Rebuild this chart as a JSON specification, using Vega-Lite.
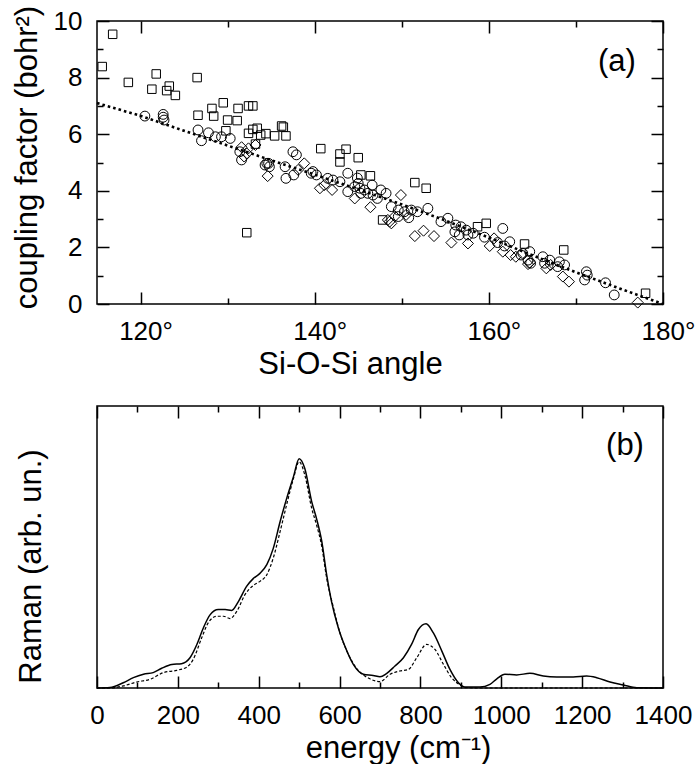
{
  "$schema": "https://vega.github.io/schema/vega-lite/v6.json",
  "padding": {"left": 10, "top": 4, "right": 0, "bottom": 0},
  "spacing": 25,
  "config": {
    "font": "Liberation Sans Narrow, Liberation Sans, sans-serif",
    "view": {"stroke": "black", "strokeWidth": 1.5, "fill": "transparent"},
    "axis": {"zindex": 1, "domain": false, "ticks": false, "gridColor": "black", "gridOpacity": 1, "gridWidth": 1.5, "labelColor": "black", "titleColor": "black", "labelFontSize": 26, "titleFontSize": 31, "titleFontWeight": "normal", "labelFlush": false, "labelOverlap": false, "labelBound": false}
  },
  "datasets": {
    "scatter": [
      {"angle": 116.8, "coupling": 9.53, "series": "square"},
      {"angle": 115.6, "coupling": 8.39, "series": "square"},
      {"angle": 118.6, "coupling": 7.83, "series": "square"},
      {"angle": 121.8, "coupling": 8.13, "series": "square"},
      {"angle": 121.3, "coupling": 7.59, "series": "square"},
      {"angle": 123.3, "coupling": 7.70, "series": "square"},
      {"angle": 123.0, "coupling": 7.54, "series": "square"},
      {"angle": 124.0, "coupling": 7.37, "series": "square"},
      {"angle": 126.5, "coupling": 8.00, "series": "square"},
      {"angle": 129.5, "coupling": 7.11, "series": "square"},
      {"angle": 128.2, "coupling": 6.91, "series": "square"},
      {"angle": 128.4, "coupling": 6.64, "series": "square"},
      {"angle": 126.6, "coupling": 6.67, "series": "square"},
      {"angle": 131.2, "coupling": 6.91, "series": "square"},
      {"angle": 132.4, "coupling": 7.00, "series": "square"},
      {"angle": 132.9, "coupling": 7.00, "series": "square"},
      {"angle": 130.0, "coupling": 6.50, "series": "square"},
      {"angle": 131.1, "coupling": 6.48, "series": "square"},
      {"angle": 129.8, "coupling": 6.12, "series": "square"},
      {"angle": 132.9, "coupling": 6.17, "series": "square"},
      {"angle": 133.4, "coupling": 6.21, "series": "square"},
      {"angle": 132.4, "coupling": 6.03, "series": "square"},
      {"angle": 133.8, "coupling": 5.97, "series": "square"},
      {"angle": 134.4, "coupling": 6.02, "series": "square"},
      {"angle": 135.4, "coupling": 5.94, "series": "square"},
      {"angle": 136.2, "coupling": 6.29, "series": "square"},
      {"angle": 136.4, "coupling": 6.25, "series": "square"},
      {"angle": 136.7, "coupling": 5.94, "series": "square"},
      {"angle": 133.2, "coupling": 5.65, "series": "square"},
      {"angle": 140.7, "coupling": 5.49, "series": "square"},
      {"angle": 142.9, "coupling": 5.30, "series": "square"},
      {"angle": 143.6, "coupling": 5.47, "series": "square"},
      {"angle": 142.9, "coupling": 5.02, "series": "square"},
      {"angle": 145.0, "coupling": 5.17, "series": "square"},
      {"angle": 145.3, "coupling": 4.56, "series": "square"},
      {"angle": 146.4, "coupling": 4.53, "series": "square"},
      {"angle": 147.8, "coupling": 2.97, "series": "square"},
      {"angle": 132.2, "coupling": 2.52, "series": "square"},
      {"angle": 151.5, "coupling": 4.29, "series": "square"},
      {"angle": 152.8, "coupling": 4.09, "series": "square"},
      {"angle": 159.7, "coupling": 2.85, "series": "square"},
      {"angle": 158.7, "coupling": 2.73, "series": "square"},
      {"angle": 164.1, "coupling": 2.12, "series": "square"},
      {"angle": 168.6, "coupling": 1.91, "series": "square"},
      {"angle": 178.0, "coupling": 0.38, "series": "square"},
      {"angle": 120.5, "coupling": 6.64, "series": "circle"},
      {"angle": 122.6, "coupling": 6.70, "series": "circle"},
      {"angle": 122.6, "coupling": 6.60, "series": "circle"},
      {"angle": 122.7, "coupling": 6.50, "series": "circle"},
      {"angle": 126.6, "coupling": 6.15, "series": "circle"},
      {"angle": 127.0, "coupling": 5.77, "series": "circle"},
      {"angle": 127.8, "coupling": 6.05, "series": "circle"},
      {"angle": 128.6, "coupling": 5.91, "series": "circle"},
      {"angle": 129.3, "coupling": 5.91, "series": "circle"},
      {"angle": 130.3, "coupling": 5.85, "series": "circle"},
      {"angle": 131.4, "coupling": 5.38, "series": "circle"},
      {"angle": 131.6, "coupling": 5.09, "series": "circle"},
      {"angle": 134.3, "coupling": 4.91, "series": "circle"},
      {"angle": 134.5, "coupling": 4.97, "series": "circle"},
      {"angle": 134.7, "coupling": 4.97, "series": "circle"},
      {"angle": 134.8, "coupling": 4.85, "series": "circle"},
      {"angle": 137.5, "coupling": 5.38, "series": "circle"},
      {"angle": 137.9, "coupling": 5.27, "series": "circle"},
      {"angle": 136.6, "coupling": 4.85, "series": "circle"},
      {"angle": 136.7, "coupling": 4.44, "series": "circle"},
      {"angle": 137.6, "coupling": 4.56, "series": "circle"},
      {"angle": 139.6, "coupling": 4.62, "series": "circle"},
      {"angle": 139.8, "coupling": 4.68, "series": "circle"},
      {"angle": 140.2, "coupling": 4.56, "series": "circle"},
      {"angle": 141.5, "coupling": 4.44, "series": "circle"},
      {"angle": 142.1, "coupling": 4.38, "series": "circle"},
      {"angle": 142.9, "coupling": 4.32, "series": "circle"},
      {"angle": 143.8, "coupling": 4.62, "series": "circle"},
      {"angle": 143.8, "coupling": 3.97, "series": "circle"},
      {"angle": 144.6, "coupling": 4.15, "series": "circle"},
      {"angle": 144.9, "coupling": 4.45, "series": "circle"},
      {"angle": 145.0, "coupling": 4.26, "series": "circle"},
      {"angle": 145.2, "coupling": 4.09, "series": "circle"},
      {"angle": 145.7, "coupling": 4.03, "series": "circle"},
      {"angle": 146.1, "coupling": 3.91, "series": "circle"},
      {"angle": 145.3, "coupling": 3.91, "series": "circle"},
      {"angle": 146.6, "coupling": 4.20, "series": "circle"},
      {"angle": 146.7, "coupling": 3.85, "series": "circle"},
      {"angle": 147.6, "coupling": 4.03, "series": "circle"},
      {"angle": 148.2, "coupling": 3.91, "series": "circle"},
      {"angle": 147.2, "coupling": 3.73, "series": "circle"},
      {"angle": 148.8, "coupling": 3.44, "series": "circle"},
      {"angle": 149.6, "coupling": 3.32, "series": "circle"},
      {"angle": 150.3, "coupling": 3.26, "series": "circle"},
      {"angle": 151.1, "coupling": 3.32, "series": "circle"},
      {"angle": 151.8, "coupling": 3.26, "series": "circle"},
      {"angle": 149.6, "coupling": 3.09, "series": "circle"},
      {"angle": 150.8, "coupling": 3.05, "series": "circle"},
      {"angle": 153.0, "coupling": 3.38, "series": "circle"},
      {"angle": 154.5, "coupling": 2.91, "series": "circle"},
      {"angle": 155.3, "coupling": 3.03, "series": "circle"},
      {"angle": 156.2, "coupling": 2.79, "series": "circle"},
      {"angle": 156.8, "coupling": 2.73, "series": "circle"},
      {"angle": 157.4, "coupling": 2.61, "series": "circle"},
      {"angle": 156.1, "coupling": 2.55, "series": "circle"},
      {"angle": 156.6, "coupling": 2.44, "series": "circle"},
      {"angle": 157.6, "coupling": 2.44, "series": "circle"},
      {"angle": 158.2, "coupling": 2.50, "series": "circle"},
      {"angle": 161.6, "coupling": 2.67, "series": "circle"},
      {"angle": 159.5, "coupling": 2.36, "series": "circle"},
      {"angle": 161.0, "coupling": 2.17, "series": "circle"},
      {"angle": 161.8, "coupling": 2.05, "series": "circle"},
      {"angle": 162.4, "coupling": 2.20, "series": "circle"},
      {"angle": 163.7, "coupling": 1.73, "series": "circle"},
      {"angle": 164.5, "coupling": 1.55, "series": "circle"},
      {"angle": 164.8, "coupling": 1.44, "series": "circle"},
      {"angle": 164.7, "coupling": 1.85, "series": "circle"},
      {"angle": 163.9, "coupling": 1.79, "series": "circle"},
      {"angle": 166.2, "coupling": 1.67, "series": "circle"},
      {"angle": 167.0, "coupling": 1.55, "series": "circle"},
      {"angle": 166.4, "coupling": 1.44, "series": "circle"},
      {"angle": 168.1, "coupling": 1.49, "series": "circle"},
      {"angle": 168.7, "coupling": 1.38, "series": "circle"},
      {"angle": 167.9, "coupling": 1.32, "series": "circle"},
      {"angle": 171.2, "coupling": 1.14, "series": "circle"},
      {"angle": 171.3, "coupling": 1.02, "series": "circle"},
      {"angle": 171.0, "coupling": 0.85, "series": "circle"},
      {"angle": 173.4, "coupling": 0.75, "series": "circle"},
      {"angle": 174.4, "coupling": 0.32, "series": "circle"},
      {"angle": 131.6, "coupling": 5.54, "series": "diamond"},
      {"angle": 131.9, "coupling": 5.21, "series": "diamond"},
      {"angle": 132.4, "coupling": 5.50, "series": "diamond"},
      {"angle": 132.2, "coupling": 5.32, "series": "diamond"},
      {"angle": 133.2, "coupling": 5.62, "series": "diamond"},
      {"angle": 134.6, "coupling": 4.52, "series": "diamond"},
      {"angle": 138.8, "coupling": 4.97, "series": "diamond"},
      {"angle": 138.1, "coupling": 4.74, "series": "diamond"},
      {"angle": 140.6, "coupling": 4.09, "series": "diamond"},
      {"angle": 142.0, "coupling": 4.03, "series": "diamond"},
      {"angle": 141.1, "coupling": 4.20, "series": "diamond"},
      {"angle": 144.6, "coupling": 3.73, "series": "diamond"},
      {"angle": 146.4, "coupling": 3.42, "series": "diamond"},
      {"angle": 148.4, "coupling": 2.97, "series": "diamond"},
      {"angle": 148.8, "coupling": 2.85, "series": "diamond"},
      {"angle": 149.9, "coupling": 3.85, "series": "diamond"},
      {"angle": 149.2, "coupling": 3.10, "series": "diamond"},
      {"angle": 150.5, "coupling": 3.15, "series": "diamond"},
      {"angle": 151.5, "coupling": 2.40, "series": "diamond"},
      {"angle": 152.5, "coupling": 2.59, "series": "diamond"},
      {"angle": 153.7, "coupling": 2.40, "series": "diamond"},
      {"angle": 155.7, "coupling": 2.17, "series": "diamond"},
      {"angle": 157.6, "coupling": 2.14, "series": "diamond"},
      {"angle": 148.6, "coupling": 2.91, "series": "diamond"},
      {"angle": 160.1, "coupling": 2.05, "series": "diamond"},
      {"angle": 160.6, "coupling": 2.32, "series": "diamond"},
      {"angle": 161.6, "coupling": 1.85, "series": "diamond"},
      {"angle": 162.5, "coupling": 1.73, "series": "diamond"},
      {"angle": 163.1, "coupling": 1.67, "series": "diamond"},
      {"angle": 164.5, "coupling": 1.41, "series": "diamond"},
      {"angle": 164.7, "coupling": 1.46, "series": "diamond"},
      {"angle": 166.6, "coupling": 1.26, "series": "diamond"},
      {"angle": 167.1, "coupling": 1.38, "series": "diamond"},
      {"angle": 168.5, "coupling": 0.97, "series": "diamond"},
      {"angle": 169.2, "coupling": 0.79, "series": "diamond"},
      {"angle": 177.1, "coupling": 0.05, "series": "diamond"}
    ],
    "fit": [
      {"angle": 115, "coupling": 7.10},
      {"angle": 120, "coupling": 6.65},
      {"angle": 125, "coupling": 6.12},
      {"angle": 130, "coupling": 5.60},
      {"angle": 135, "coupling": 5.08},
      {"angle": 140, "coupling": 4.57},
      {"angle": 145, "coupling": 4.05},
      {"angle": 150, "coupling": 3.52},
      {"angle": 155, "coupling": 2.95},
      {"angle": 160, "coupling": 2.35},
      {"angle": 165, "coupling": 1.72},
      {"angle": 170, "coupling": 1.12},
      {"angle": 175, "coupling": 0.55},
      {"angle": 180, "coupling": 0.0}
    ],
    "solid": [
      {"energy": 0, "raman": 0}, {"energy": 32, "raman": 0.2}, {"energy": 65, "raman": 2.3}, {"energy": 90, "raman": 4.5},
      {"energy": 115, "raman": 6.0}, {"energy": 139, "raman": 6.7}, {"energy": 160, "raman": 8.6}, {"energy": 185, "raman": 10.3},
      {"energy": 209, "raman": 10.6}, {"energy": 230, "raman": 13.2}, {"energy": 247, "raman": 19.0}, {"energy": 263, "raman": 26.2},
      {"energy": 280, "raman": 32.0}, {"energy": 300, "raman": 34.2}, {"energy": 317, "raman": 34.2}, {"energy": 333, "raman": 33.8},
      {"energy": 350, "raman": 37.8}, {"energy": 370, "raman": 44.3}, {"energy": 387, "raman": 47.8}, {"energy": 403, "raman": 50.0},
      {"energy": 420, "raman": 53.8}, {"energy": 436, "raman": 60.9}, {"energy": 453, "raman": 72.6}, {"energy": 469, "raman": 82.6},
      {"energy": 486, "raman": 92.2}, {"energy": 500, "raman": 100}, {"energy": 514, "raman": 95.7}, {"energy": 531, "raman": 81.3},
      {"energy": 543, "raman": 73.9}, {"energy": 556, "raman": 63.9}, {"energy": 568, "raman": 49.4}, {"energy": 580, "raman": 37.8},
      {"energy": 597, "raman": 26.2}, {"energy": 613, "raman": 18.3}, {"energy": 634, "raman": 10.3}, {"energy": 659, "raman": 6.0},
      {"energy": 683, "raman": 5.5}, {"energy": 700, "raman": 4.9}, {"energy": 716, "raman": 6.3}, {"energy": 737, "raman": 9.6},
      {"energy": 758, "raman": 13.2}, {"energy": 778, "raman": 19.0}, {"energy": 795, "raman": 25.5}, {"energy": 814, "raman": 28.0},
      {"energy": 832, "raman": 24.0}, {"energy": 853, "raman": 16.1}, {"energy": 873, "raman": 8.1}, {"energy": 894, "raman": 2.3},
      {"energy": 910, "raman": 0.4}, {"energy": 947, "raman": 0.4}, {"energy": 972, "raman": 1.6}, {"energy": 989, "raman": 4.0},
      {"energy": 1009, "raman": 6.0}, {"energy": 1038, "raman": 5.7}, {"energy": 1071, "raman": 6.4}, {"energy": 1104, "raman": 5.2},
      {"energy": 1137, "raman": 4.8}, {"energy": 1178, "raman": 4.8}, {"energy": 1211, "raman": 5.2}, {"energy": 1236, "raman": 4.5},
      {"energy": 1269, "raman": 2.6}, {"energy": 1302, "raman": 1.3}, {"energy": 1335, "raman": 0.1}, {"energy": 1400, "raman": 0}
    ],
    "dashed": [
      {"energy": 0, "raman": 0}, {"energy": 32, "raman": 0}, {"energy": 65, "raman": 0.9}, {"energy": 98, "raman": 2.6},
      {"energy": 131, "raman": 3.8}, {"energy": 164, "raman": 6.7}, {"energy": 197, "raman": 7.7}, {"energy": 222, "raman": 9.1},
      {"energy": 238, "raman": 12.5}, {"energy": 259, "raman": 21.9}, {"energy": 275, "raman": 28.4}, {"energy": 296, "raman": 31.3},
      {"energy": 313, "raman": 31.3}, {"energy": 329, "raman": 30.3}, {"energy": 346, "raman": 33.5}, {"energy": 366, "raman": 40.7},
      {"energy": 387, "raman": 44.8}, {"energy": 403, "raman": 46.5}, {"energy": 420, "raman": 49.4}, {"energy": 436, "raman": 56.7},
      {"energy": 453, "raman": 68.3}, {"energy": 469, "raman": 79.9}, {"energy": 486, "raman": 91.4}, {"energy": 500, "raman": 98.7},
      {"energy": 514, "raman": 92.9}, {"energy": 531, "raman": 78.4}, {"energy": 543, "raman": 71.2}, {"energy": 556, "raman": 61.7},
      {"energy": 568, "raman": 48.0}, {"energy": 585, "raman": 34.9}, {"energy": 601, "raman": 24.0}, {"energy": 618, "raman": 16.1},
      {"energy": 642, "raman": 8.6}, {"energy": 675, "raman": 4.0}, {"energy": 700, "raman": 2.8}, {"energy": 725, "raman": 6.0},
      {"energy": 749, "raman": 7.4}, {"energy": 770, "raman": 8.1}, {"energy": 791, "raman": 13.2}, {"energy": 815, "raman": 19.0},
      {"energy": 836, "raman": 16.8}, {"energy": 857, "raman": 10.3}, {"energy": 877, "raman": 4.5}, {"energy": 898, "raman": 1.3},
      {"energy": 910, "raman": 0.2}, {"energy": 950, "raman": 0}, {"energy": 1400, "raman": 0}
    ]
  },
  "vconcat": [
    {
      "width": 566,
      "height": 283,
      "layer": [
        {
          "data": {"name": "scatter"},
          "mark": {"type": "point", "filled": false, "stroke": "black", "strokeWidth": 1, "opacity": 1},
          "encoding": {
            "x": {"field": "angle", "type": "quantitative", "scale": {"domain": [115, 180], "nice": false, "zero": false},
              "axis": {"orient": "bottom", "values": [120, 140, 160, 180], "zindex": 1,
                "labelExpr": "datum.value + '°'",
                "grid": true, "gridDash": [12, 259, 12, 0],
                "labelPadding": 14, "labelOffset": 5, "title": "Si-O-Si angle", "titlePadding": 5, "titleX": 253}},
            "y": {"field": "coupling", "type": "quantitative", "scale": {"domain": [0, 10], "nice": false},
              "axis": {"orient": "left", "values": [0, 2, 4, 6, 8, 10], "zindex": 1,
                "grid": true, "gridDash": [12, 542, 12, 0],
                "labelPadding": 15, "title": "coupling factor (bohr²)", "titlePadding": 10, "titleY": 136}},
            "shape": {"field": "series", "type": "nominal", "scale": {"domain": ["square", "circle", "diamond"], "range": ["square", "circle", "diamond"]}, "legend": null},
            "size": {"field": "series", "type": "nominal", "scale": {"domain": ["square", "circle", "diamond"], "range": [72, 121, 144]}, "legend": null}
          }
        },
        {
          "data": {"name": "fit"},
          "mark": {"type": "line", "stroke": "black", "strokeWidth": 2.6, "strokeDash": [2.6, 3]},
          "encoding": {
            "x": {"field": "angle", "type": "quantitative", "scale": {"domain": [115, 180], "nice": false, "zero": false},
              "axis": {"orient": "top", "values": [130, 150, 170], "labels": false, "title": null, "zindex": 1,
                "grid": true, "gridDash": [6, 271, 6, 0]}},
            "y": {"field": "coupling", "type": "quantitative", "scale": {"domain": [0, 10], "nice": false},
              "axis": {"orient": "right", "values": [1, 3, 5, 7, 9], "labels": false, "title": null, "zindex": 1,
                "grid": true, "gridDash": [6, 554, 6, 0]}}
          }
        },
        {
          "data": {"values": [{"x": 174.7, "y": 8.55, "t": "(a)"}]},
          "mark": {"type": "text", "fontSize": 31, "color": "black"},
          "encoding": {
            "x": {"field": "x", "type": "quantitative", "scale": {"domain": [115, 180], "nice": false, "zero": false}, "axis": null},
            "y": {"field": "y", "type": "quantitative", "scale": {"domain": [0, 10], "nice": false}, "axis": null},
            "text": {"field": "t"}
          }
        }
      ],
      "resolve": {"axis": {"x": "independent", "y": "independent"}}
    },
    {
      "width": 566,
      "height": 282,
      "layer": [
        {
          "data": {"name": "solid"},
          "mark": {"type": "line", "stroke": "black", "strokeWidth": 1.5, "interpolate": "monotone"},
          "encoding": {
            "x": {"field": "energy", "type": "quantitative", "scale": {"domain": [0, 1400], "nice": false},
              "axis": {"orient": "bottom", "values": [0, 200, 400, 600, 800, 1000, 1200, 1400], "format": "d", "zindex": 1,
                "grid": true, "gridDash": [12, 258, 12, 0],
                "labelPadding": 14, "title": "energy  (cm⁻¹)", "titlePadding": 5, "titleX": 301}},
            "y": {"field": "raman", "type": "quantitative", "scale": {"domain": [0, 123], "nice": false},
              "axis": {"orient": "left", "labels": false, "grid": false, "title": "Raman (arb. un.)", "titlePadding": 50, "titleY": 160}}
          }
        },
        {
          "data": {"name": "dashed"},
          "mark": {"type": "line", "stroke": "black", "strokeWidth": 1.2, "strokeDash": [3, 2], "interpolate": "monotone"},
          "encoding": {
            "x": {"field": "energy", "type": "quantitative", "scale": {"domain": [0, 1400], "nice": false},
              "axis": {"orient": "top", "values": [100, 300, 500, 700, 900, 1100, 1300], "labels": false, "title": null, "zindex": 1,
                "grid": true, "gridDash": [6, 270, 6, 0]}},
            "y": {"field": "raman", "type": "quantitative", "scale": {"domain": [0, 123], "nice": false}, "axis": null}
          }
        },
        {
          "data": {"values": [{"x": 1306, "y": 105.7, "t": "(b)"}]},
          "mark": {"type": "text", "fontSize": 31, "color": "black"},
          "encoding": {
            "x": {"field": "x", "type": "quantitative", "scale": {"domain": [0, 1400], "nice": false}, "axis": null},
            "y": {"field": "y", "type": "quantitative", "scale": {"domain": [0, 123], "nice": false}, "axis": null},
            "text": {"field": "t"}
          }
        }
      ],
      "resolve": {"axis": {"x": "independent", "y": "independent"}}
    }
  ]
}
